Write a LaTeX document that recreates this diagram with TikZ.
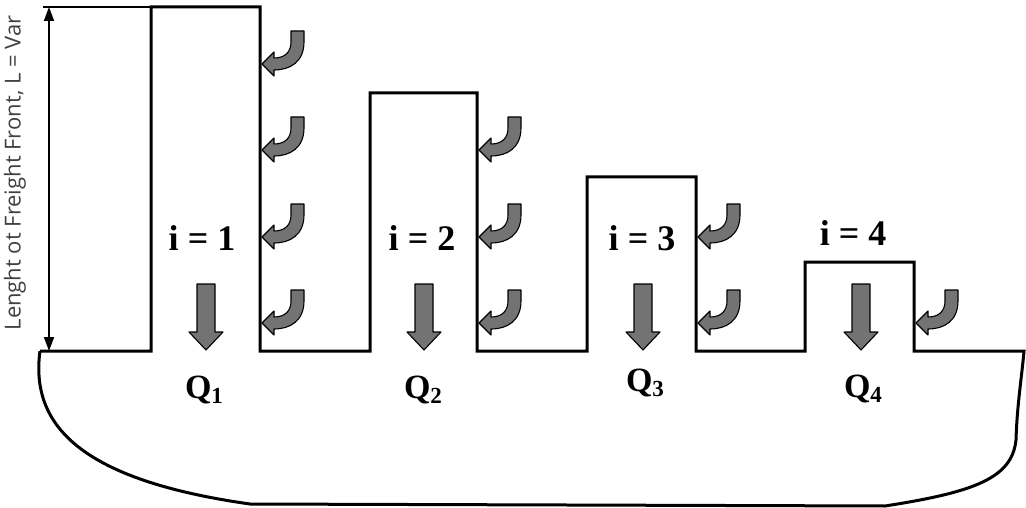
\documentclass[tikz,border=0pt]{standalone}
\usepackage{fontspec}
\setmainfont{Liberation Serif}
\newfontfamily\dimfont{Open Sans}
\usetikzlibrary{arrows.meta}

\tikzset{
  % gray flow arrows, outlined in black
  flowfill/.style={fill=black!55, draw=black, line width=1.1pt, line join=round},
  % curved arrow entering a wall from the right, tip at the origin
  inflow/.pic={\path[flowfill] (0,0) -- (12,-12) -- (12,-6)
      .. controls (23,-6) and (29,-12) .. (29,-22) -- (29,-33) -- (42,-33) -- (42,-22)
      .. controls (42,-2) and (28,6) .. (12,6) -- (12,12) -- cycle;},
  % straight arrow pointing down, tip at the origin
  outflow/.pic={\path[flowfill] (0,0) -- (-17,-18) -- (-9,-18) -- (-9,-66)
      -- (9,-66) -- (9,-18) -- (17,-18) -- cycle;},
  wall/.style={line width=3pt, line join=miter},
  caselabel/.style={font=\bfseries\fontsize{36}{36}\selectfont, inner sep=0pt, anchor=base},
  ratelabel/.style={font=\bfseries\fontsize{34}{34}\selectfont, inner sep=0pt, anchor=base},
  dimline/.style={line width=1.8pt, {Triangle[length=14pt,width=10pt]}-{Triangle[length=14pt,width=10pt]}},
}
\newcommand{\rate}[1]{Q\raisebox{-5pt}{\fontsize{23}{23}\selectfont #1}}

\begin{document}
\begin{tikzpicture}[x=1pt,y=-1pt]
\useasboundingbox (0,0) rectangle (1026,508);

% body outline with the four stepped fronts
\draw[wall] (40,351) -- (151,351) -- (151,7) -- (260,7) -- (260,351)
  -- (370,351) -- (370,93) -- (477,93) -- (477,351)
  -- (587,351) -- (587,177) -- (696,177) -- (696,351)
  -- (805,351) -- (805,262) -- (914,262) -- (914,351) -- (1024,351)
  .. controls (1022,375) and (1017,405) .. (1016,440)
  .. controls (1012,478) and (975,492) .. (885,506)
  -- (250,504)
  .. controls (80,480) and (30,425) .. (40,351);

% dimension of the first front
\coordinate (dimtop) at (49,7);
\coordinate (dimbot) at (49,351);
\coordinate (exttop) at (43,7);
\coordinate (boxtop) at (151,7);
\draw[line width=1.8pt] (exttop) -- (boxtop);
\draw[dimline] (dimbot) -- (dimtop);
\node[rotate=90, font=\dimfont\fontsize{22}{22}\selectfont, text=black!75, inner sep=0pt]
  (dimlabel) at (15,173) {Lenght ot Freight Front, L = Var};

% inflows along the right-hand walls
\foreach \y in {64,150,237,323} \pic at (262,\y) {inflow};
\foreach \y in {150,237,323} \pic at (479,\y) {inflow};
\foreach \y in {237,323} \pic at (698,\y) {inflow};
\pic at (916,323) {inflow};

% outflows of each front
\foreach \x in {206,424,643,861} \pic at (\x,350) {outflow};

% case numbers
\node[caselabel] (i1) at (202,250) {i = 1};
\node[caselabel] (i2) at (422,250) {i = 2};
\node[caselabel] (i3) at (642,250) {i = 3};
\node[caselabel] (i4) at (853,245) {i = 4};

% rates
\node[ratelabel] (q1) at (204,398) {\rate{1}};
\node[ratelabel] (q2) at (423,398) {\rate{2}};
\node[ratelabel] (q3) at (645,391) {\rate{3}};
\node[ratelabel] (q4) at (863,397) {\rate{4}};
\end{tikzpicture}
\end{document}
